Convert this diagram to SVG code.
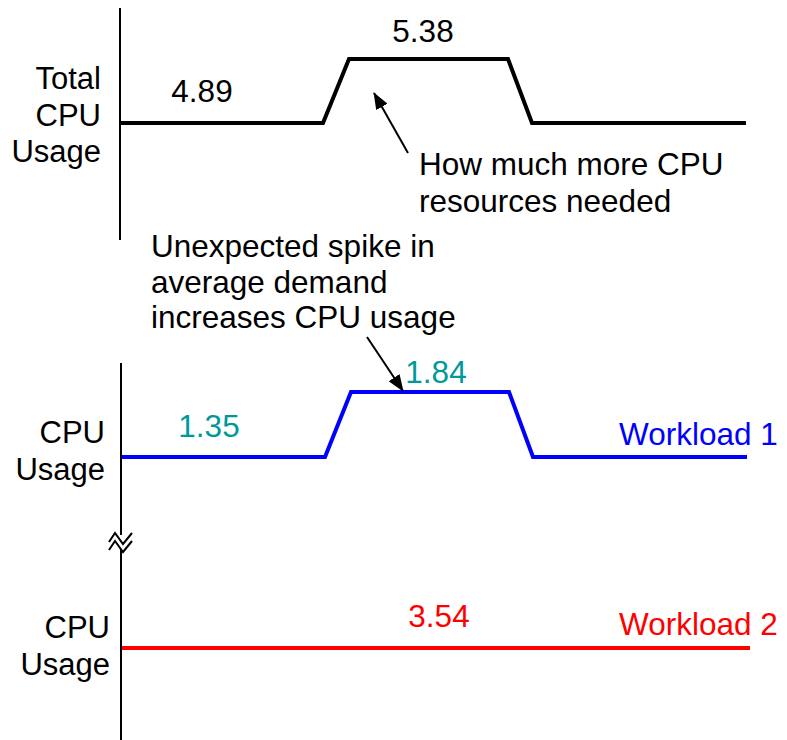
<svg xmlns="http://www.w3.org/2000/svg" width="787" height="740" viewBox="0 0 787 740">
  <style>
    text { font-family: "Liberation Sans", Arial, sans-serif; }
    .axis { stroke: #000; stroke-width: 2; fill: none; }
    .lbl { font-size: 31px; fill: #000; text-anchor: end; }
    .note { font-size: 31.5px; }
    .val { font-size: 31.5px; text-anchor: middle; }
    .ink { fill: #000; }
    .teal { fill: #009999; }
    .blue { fill: #0000ff; }
    .red { fill: #ff0000; }
    .trace { fill: none; stroke-width: 4; stroke-linejoin: miter; }
    .pointer { stroke: #000; stroke-width: 2; fill: none; marker-end: url(#head); }
  </style>
  <defs>
    <marker id="head" markerUnits="userSpaceOnUse" markerWidth="17" markerHeight="13" viewBox="0 0 17 13" refX="16" refY="6.5" orient="auto">
      <path d="M0,0 L17,6.5 L0,13 Z" fill="#000"/>
    </marker>
  </defs>
  <rect width="787" height="740" fill="#fff"/>

  <!-- axes -->
  <g id="axes">
    <line class="axis" x1="120" y1="8" x2="120" y2="240"/>
    <line class="axis" x1="121" y1="363" x2="121" y2="535"/>
    <line class="axis" x1="121" y1="547" x2="121" y2="740"/>
    <!-- axis break -->
    <polygon points="109,542 115,533 123,544 132,533 132,541 123,552 115,541 109,550" fill="#fff"/>
    <polyline class="axis" stroke-width="1.6" points="109,542 115,533 123,544 132,533"/>
    <polyline class="axis" stroke-width="1.6" points="109,550 115,541 123,552 132,541"/>
  </g>

  <!-- axis labels -->
  <g id="label-total">
    <text class="lbl" x="101" y="89">Total</text>
    <text class="lbl" x="101" y="126">CPU</text>
    <text class="lbl" x="101" y="162">Usage</text>
  </g>
  <g id="label-w1">
    <text class="lbl" x="105" y="443">CPU</text>
    <text class="lbl" x="105" y="480">Usage</text>
  </g>
  <g id="label-w2">
    <text class="lbl" x="110" y="638">CPU</text>
    <text class="lbl" x="110" y="675">Usage</text>
  </g>

  <!-- traces -->
  <g id="trace-total">
    <polyline class="trace" stroke="#000" points="121,123 323,123 349,59 508,59 532,123 746,123"/>
    <text class="val ink" x="202" y="102">4.89</text>
    <text class="val ink" x="423" y="42">5.38</text>
  </g>
  <g id="trace-w1">
    <polyline class="trace" stroke="#0000ff" points="122,457 325,457 351,392 509,392 533,457 747,457"/>
    <text class="val teal" x="209" y="437">1.35</text>
    <text class="val teal" x="436" y="383">1.84</text>
    <text class="note blue" x="619" y="445">Workload 1</text>
  </g>
  <g id="trace-w2">
    <line class="trace" stroke="#ff0000" x1="122" y1="648" x2="750" y2="648"/>
    <text class="val red" x="439" y="627">3.54</text>
    <text class="note red" x="619" y="635">Workload 2</text>
  </g>

  <!-- annotations -->
  <g id="note-needed">
    <text class="note ink" x="419" y="175">How much more CPU</text>
    <text class="note ink" x="419" y="212">resources needed</text>
  </g>
  <g id="note-spike">
    <text class="note ink" x="151" y="257">Unexpected spike in</text>
    <text class="note ink" x="151" y="293">average demand</text>
    <text class="note ink" x="151" y="328">increases CPU usage</text>
  </g>

  <g id="connectors">
    <line class="pointer" x1="408" y1="153" x2="374" y2="93"/>
    <line class="pointer" x1="367" y1="337" x2="403" y2="391"/>
  </g>
</svg>
